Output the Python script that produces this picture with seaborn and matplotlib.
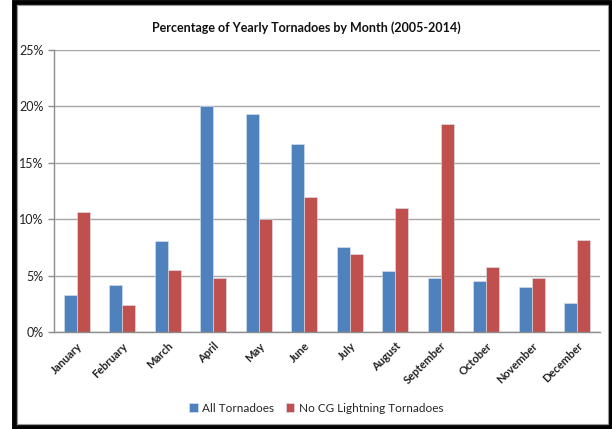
import pandas as pd
import matplotlib.pyplot as plt
import seaborn as sns
from matplotlib.patches import Rectangle
from matplotlib.ticker import FuncFormatter

# ----------------------------
# Data
# ----------------------------
months = ["January", "February", "March", "April", "May", "June",
          "July", "August", "September", "October", "November", "December"]
all_tornadoes = [3.3, 4.2, 8.1, 20.0, 19.3, 16.7, 7.5, 5.4, 4.8, 4.5, 4.0, 2.6]
no_cg_tornadoes = [10.6, 2.4, 5.5, 4.8, 10.0, 12.0, 6.9, 11.0, 18.4, 5.8, 4.8, 8.2]
series_names = ["All Tornadoes", "No CG Lightning Tornadoes"]
colors = ["#4F81BD", "#C0504D"]

df = pd.DataFrame({"Month": months,
                   series_names[0]: all_tornadoes,
                   series_names[1]: no_cg_tornadoes})
long_df = df.melt(id_vars="Month", var_name="Series", value_name="Percent")

sns.set_style("white")
plt.rcParams["font.family"] = ["Lato", "DejaVu Sans"]

fig = plt.figure(figsize=(6.12, 4.29), dpi=100)
ax = fig.add_axes([54 / 612, 1 - 332 / 429, 546 / 612, 282 / 429])

sns.barplot(data=long_df, x="Month", y="Percent", hue="Series",
            palette=colors, saturation=1, width=0.58, ax=ax,
            edgecolor="#DCE6F2", linewidth=0.4)

ax.set_ylim(0, 25)
ax.set_xlim(-0.5, 11.5)
ax.set_yticks([0, 5, 10, 15, 20, 25])
ax.yaxis.set_major_formatter(FuncFormatter(lambda v, p: f"{v:.0f}%"))
ax.grid(axis="y", color="#A6A6A6", linewidth=1)
ax.set_axisbelow(True)
ax.set_xlabel("")
ax.set_ylabel("")

for side in ["top", "right"]:
    ax.spines[side].set_visible(False)
for side in ["left", "bottom"]:
    ax.spines[side].set_color("#8C8C8C")
    ax.spines[side].set_linewidth(1)

# category ticks between groups like Excel
ax.set_xticks(range(len(months)))
ax.set_xticklabels(months, rotation=45, ha="right", rotation_mode="anchor",
                   fontsize=8, fontweight="bold", color="#222222")
ax.set_xticks([i - 0.5 for i in range(len(months) + 1)], minor=True)
ax.tick_params(axis="x", which="major", length=0, pad=6)
ax.tick_params(axis="x", which="minor", length=4, color="#8C8C8C", width=1, direction="out")
ax.tick_params(axis="y", length=4, color="#8C8C8C", width=1, direction="out",
               labelsize=9, labelcolor="#222222", left=True)

fig.text(0.5, 1 - 28 / 429, "Percentage of Yearly Tornadoes by Month (2005-2014)",
         ha="center", va="center", fontsize=9, fontweight="bold", color="#111111")

handles, labels = ax.get_legend_handles_labels()
ax.legend_.remove()
fig.legend(handles, labels, loc="center", bbox_to_anchor=(0.517, 1 - 408 / 429),
           ncol=2, frameon=False, fontsize=8.5, handlelength=0.7, handleheight=0.7,
           columnspacing=1.0, handletextpad=0.4)

# black frame around the chart
fig.patches.append(Rectangle((14 / 612, 2 / 429), 596 / 612, 425 / 429,
                             transform=fig.transFigure, fill=False,
                             edgecolor="black", linewidth=3.5))
fig.patches.append(Rectangle((17 / 612, 5 / 429), 591 / 612, 419 / 429,
                             transform=fig.transFigure, fill=False,
                             edgecolor="#9A9A9A", linewidth=0.8))

plt.savefig("out.png", dpi=100)
plt.close()
